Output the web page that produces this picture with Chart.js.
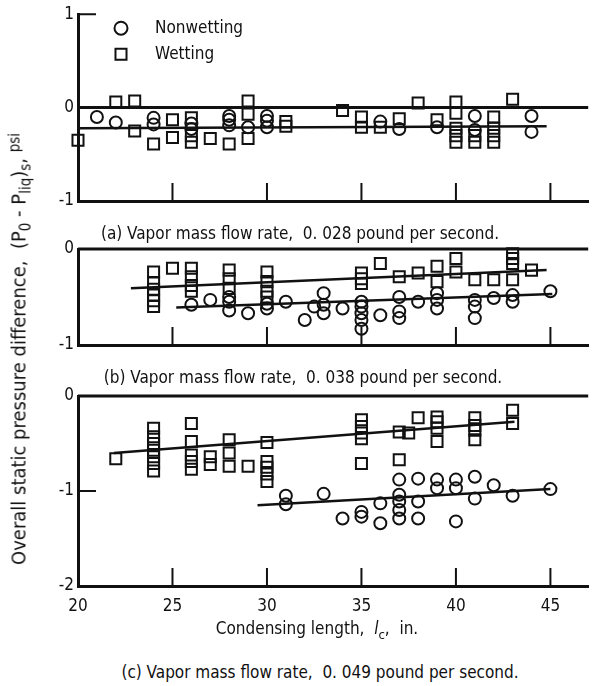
<!DOCTYPE html>
<html>
<head>
<meta charset="utf-8">
<script src="https://cdn.jsdelivr.net/npm/chart.js@4.4.1/dist/chart.umd.min.js"></script>
<style>
  body {
    margin: 0;
    background: #fff;
    width: 598px;
    height: 686px;
    position: relative;
    overflow: hidden;
    color: #111;
    font-family: "DejaVu Sans Condensed", "Liberation Sans Narrow", "DejaVu Sans", sans-serif;
  }
  canvas { position: absolute; left: 0; }
  .txt {
    position: absolute;
    white-space: nowrap;
    font-size: 17px;
    transform: translate(-50%, -50%);
  }
  .txt sub { font-size: 13px; }
  #ytitle { left: 20px; top: 349px; font-size: 20px; transform: translate(-50%, -50%) rotate(-90deg); }
  #ytitle sub { font-size: 15px; }
</style>
</head>
<body>
<canvas id="panelA" width="598" height="230" style="top:0"></canvas>
<canvas id="panelB" width="598" height="130" style="top:230px"></canvas>
<canvas id="panelC" width="598" height="280" style="top:360px"></canvas>

<div class="txt" style="left:300px;top:233px">(a) Vapor mass flow rate, &nbsp;0. 028 pound per second.</div>
<div class="txt" style="left:303px;top:377px">(b) Vapor mass flow rate, &nbsp;0. 038 pound per second.</div>
<div class="txt" style="left:317px;top:630px">Condensing length, &nbsp;<i>l</i><sub>c</sub>, &nbsp;in.</div>
<div class="txt" style="left:320px;top:672px">(c) Vapor mass flow rate, &nbsp;0. 049 pound per second.</div>
<div class="txt" id="ytitle">Overall static pressure difference, &nbsp;(P<sub>0</sub> - P<sub>liq</sub>)<sub>s</sub>, <span style="font-size:15px;vertical-align:6px">psi</span></div>

<script>
// condensing length axis, in.
const lengthRange = [20, 47];
const lengthTicks = [20, 25, 30, 35, 40, 45];
const innerTickLengths = [25, 30, 35, 40, 45];

// (a) vapor flow 0.028 lb/s  -- [length, pressure difference]
const aNonwetting = [
  [21, -0.10], [22, -0.16], [24, -0.11], [24, -0.18], [26, -0.17], [26, -0.23],
  [28, -0.09], [28, -0.13], [28, -0.19], [29, -0.21], [30, -0.09], [30, -0.14],
  [30, -0.21], [36, -0.15], [37, -0.23], [39, -0.21], [41, -0.09], [41, -0.24],
  [44, -0.09], [44, -0.26]
];
const aWetting = [
  [20, -0.35], [22, 0.06], [23, 0.07], [23, -0.25], [24, -0.39], [25, -0.13],
  [25, -0.32], [26, -0.11], [26, -0.30], [26, -0.37], [27, -0.33], [28, -0.39],
  [29, 0.07], [29, -0.07], [29, -0.33], [31, -0.15], [31, -0.20], [34, -0.03],
  [35, -0.10], [35, -0.21], [36, -0.21], [37, -0.12], [38, 0.05], [39, -0.13],
  [40, 0.06], [40, -0.06], [40, -0.22], [40, -0.30], [40, -0.37], [41, -0.30],
  [41, -0.37], [42, -0.10], [42, -0.22], [42, -0.30], [42, -0.37], [43, 0.09]
];
const aFit = [[20, -0.22], [44.8, -0.20]];

// (b) vapor flow 0.038 lb/s
const bNonwetting = [
  [26, -0.58], [27, -0.53], [28, -0.50], [28, -0.55], [28, -0.64], [29, -0.67],
  [30, -0.57], [30, -0.62], [31, -0.55], [32, -0.74], [32.5, -0.60], [33, -0.46],
  [33, -0.58], [33, -0.67], [34, -0.62], [35, -0.55], [35, -0.60], [35, -0.67],
  [35, -0.74], [35, -0.83], [36, -0.69], [37, -0.50], [37, -0.65], [37, -0.72],
  [38, -0.55], [39, -0.46], [39, -0.53], [39, -0.62], [41, -0.53], [41, -0.60],
  [41, -0.72], [42, -0.51], [43, -0.48], [43, -0.55], [45, -0.44]
];
const bWetting = [
  [24, -0.24], [24, -0.35], [24, -0.42], [24, -0.48], [24, -0.54], [24, -0.60],
  [25, -0.20], [26, -0.20], [26, -0.29], [26, -0.38], [26, -0.44], [28, -0.22],
  [28, -0.31], [28, -0.41], [30, -0.24], [30, -0.34], [30, -0.44], [30, -0.50],
  [35, -0.25], [35, -0.31], [35, -0.36], [36, -0.15], [37, -0.29], [38, -0.25],
  [39, -0.18], [39, -0.34], [40, -0.10], [40, -0.24], [41, -0.32], [42, -0.32],
  [43, -0.05], [43, -0.10], [43, -0.15], [43, -0.32], [44, -0.22]
];
const bWettingFit = [[22.8, -0.41], [44.8, -0.22]];
const bNonwettingFit = [[25.2, -0.61], [45.1, -0.47]];

// (c) vapor flow 0.049 lb/s
const cNonwetting = [
  [31, -1.05], [31, -1.14], [33, -1.03], [34, -1.29], [35, -1.22], [35, -1.27],
  [36, -1.13], [36, -1.34], [37, -0.88], [37, -1.04], [37, -1.11], [37, -1.20],
  [37, -1.29], [38, -0.87], [38, -1.11], [38, -1.29], [39, -0.88], [39, -0.97],
  [40, -0.88], [40, -0.97], [40, -1.32], [41, -0.85], [41, -1.08], [42, -0.94],
  [43, -1.05], [45, -0.98]
];
const cWetting = [
  [22, -0.66], [24, -0.34], [24, -0.43], [24, -0.50], [24, -0.57], [24, -0.64],
  [24, -0.71], [24, -0.79], [26, -0.29], [26, -0.48], [26, -0.62], [26, -0.69],
  [26, -0.77], [27, -0.64], [27, -0.72], [28, -0.46], [28, -0.60], [28, -0.74],
  [29, -0.74], [30, -0.49], [30, -0.69], [30, -0.75], [30, -0.82], [30, -0.90],
  [35, -0.25], [35, -0.32], [35, -0.39], [35, -0.45], [35, -0.71], [37, -0.38],
  [37, -0.67], [37.5, -0.39], [38, -0.23], [39, -0.22], [39, -0.27], [39, -0.34],
  [39, -0.48], [41, -0.23], [41, -0.31], [41, -0.36], [41, -0.46], [43, -0.15],
  [43, -0.29]
];
const cWettingFit = [[21.9, -0.60], [43.1, -0.27]];
const cNonwettingFit = [[29.5, -1.15], [45, -0.98]];

const seriesNames = ['Nonwetting', 'Wetting'];

const INK = '#111';
const FONT = { family: '"DejaVu Sans Condensed", "Liberation Sans Narrow", "DejaVu Sans", sans-serif', size: 17 };

const toXY = pts => pts.map(p => ({ x: p[0], y: p[1] }));

// short tick marks pointing into the plot
const innerTicks = {
  id: 'innerTicks',
  afterDraw(chart, args, opts) {
    const { ctx, chartArea, scales } = chart;
    ctx.save();
    ctx.strokeStyle = INK;
    ctx.lineWidth = 2;
    ctx.beginPath();
    (opts.x || []).forEach(v => {
      const px = scales.x.getPixelForValue(v);
      ctx.moveTo(px, chartArea.bottom);
      ctx.lineTo(px, chartArea.bottom - opts.len);
    });
    (opts.y || []).forEach(v => {
      const py = scales.y.getPixelForValue(v);
      ctx.moveTo(chartArea.left, py);
      ctx.lineTo(chartArea.left + opts.len, py);
    });
    ctx.stroke();
    ctx.restore();
  }
};

// symbol key drawn inside the top-left of the plot
const symbolKey = {
  id: 'symbolKey',
  afterDraw(chart, args, opts) {
    if (!opts.items) return;
    const { ctx, chartArea } = chart;
    ctx.save();
    ctx.strokeStyle = INK;
    opts.items.forEach((it, i) => {
      const cy = chartArea.top + opts.dy + i * opts.gap;
      ctx.fillStyle = 'rgba(0,0,0,0)';
      Chart.helpers.drawPoint(ctx, { pointStyle: it.style, radius: it.radius, borderWidth: 2 },
        chartArea.left + opts.dx, cy);
      ctx.fillStyle = INK;
      ctx.font = FONT.size + 'px ' + FONT.family;
      ctx.textBaseline = 'middle';
      ctx.fillText(it.label, chartArea.left + opts.textDx, cy);
    });
    ctx.restore();
  }
};

function panel(id, cfg) {
  const datasets = [
    { type: 'line', data: toXY([[lengthRange[0], 0], [lengthRange[1], 0]]),
      borderColor: INK, borderWidth: 3, pointRadius: 0, clip: false },
    ...cfg.fits.map(f => ({ type: 'line', data: toXY(f), borderColor: INK,
      borderWidth: 2.5, pointRadius: 0, clip: false })),
    { label: seriesNames[0], data: toXY(cfg.nonwetting), pointStyle: 'circle', pointRadius: 6,
      borderColor: INK, borderWidth: 2, backgroundColor: 'rgba(0,0,0,0)', clip: false },
    { label: seriesNames[1], data: toXY(cfg.wetting), pointStyle: 'rect', pointRadius: 7.8,
      borderColor: INK, borderWidth: 2, backgroundColor: 'rgba(0,0,0,0)', clip: false }
  ];
  return new Chart(document.getElementById(id), {
    type: 'scatter',
    data: { datasets },
    options: {
      responsive: false,
      animation: false,
      layout: { padding: cfg.padding },
      scales: {
        x: {
          type: 'linear', min: lengthRange[0], max: lengthRange[1],
          afterBuildTicks: s => { s.ticks = lengthTicks.map(v => ({ value: v })); },
          ticks: { display: cfg.showX, color: INK, font: FONT, padding: 10, maxRotation: 0 },
          grid: { display: false, drawTicks: false },
          border: { display: true, width: 3, color: INK },
          afterFit: s => { s.height = cfg.showX ? 40 : 0; }
        },
        y: {
          min: cfg.yTicks[cfg.yTicks.length - 1], max: cfg.yTicks[0],
          afterBuildTicks: s => { s.ticks = cfg.yTicks.map(v => ({ value: v })); },
          ticks: { color: INK, font: FONT, padding: 4 },
          grid: { display: false, drawTicks: false },
          border: { display: true, width: 3, color: INK },
          afterFit: s => { s.width = 78; }
        }
      },
      plugins: {
        legend: { display: false },
        tooltip: { enabled: false },
        innerTicks: { x: innerTickLengths, y: cfg.innerY, len: 18 },
        symbolKey: cfg.key || {}
      }
    },
    plugins: [innerTicks, symbolKey]
  });
}

panel('panelA', {
  yTicks: [1, 0, -1], innerY: [1], showX: false,
  padding: { top: 13, bottom: 29, left: 0, right: 2 },
  nonwetting: aNonwetting, wetting: aWetting, fits: [aFit],
  key: { dx: 43, dy: 14, gap: 26, textDx: 77,
         items: [{ style: 'circle', radius: 6.5, label: seriesNames[0] },
                 { style: 'rect', radius: 7.8, label: seriesNames[1] }] }
});

panel('panelB', {
  yTicks: [0, -1], innerY: [], showX: false,
  padding: { top: 19, bottom: 15, left: 0, right: 2 },
  nonwetting: bNonwetting, wetting: bWetting, fits: [bWettingFit, bNonwettingFit]
});

panel('panelC', {
  yTicks: [0, -1, -2], innerY: [-1], showX: true,
  padding: { top: 36, bottom: 14, left: 0, right: 2 },
  nonwetting: cNonwetting, wetting: cWetting, fits: [cWettingFit, cNonwettingFit]
});
</script>
</body>
</html>
